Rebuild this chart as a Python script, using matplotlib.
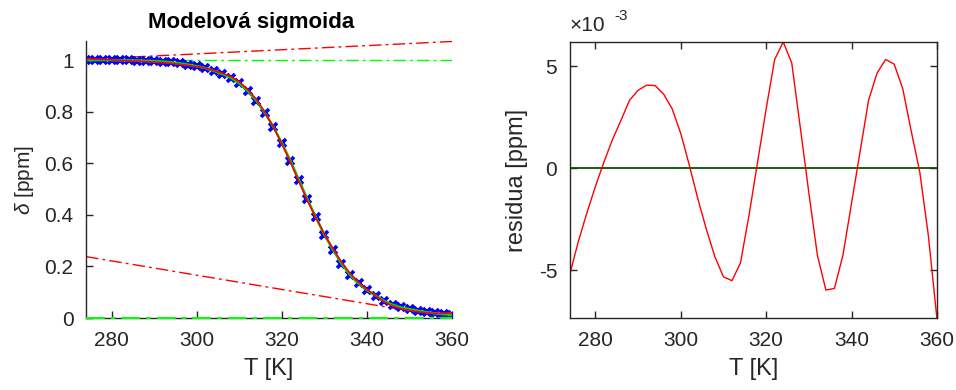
import numpy as np
import matplotlib
matplotlib.use("Agg")
import matplotlib.pyplot as plt
from matplotlib.ticker import FuncFormatter, FixedLocator

plt.rcParams['font.family'] = ['Liberation Sans', 'DejaVu Sans']
plt.rcParams['mathtext.fontset'] = 'custom'
plt.rcParams['mathtext.rm'] = 'Liberation Sans'
plt.rcParams['mathtext.it'] = 'Liberation Sans:italic'

# Temperatures [K]
T = np.arange(274, 361, 2)

# Measured chemical shift [ppm]
delta = [1.000, 1.000, 1.000, 1.000, 0.999, 0.999, 0.998, 0.997, 0.996, 0.994,
         0.991, 0.987, 0.982, 0.976, 0.969, 0.958, 0.946, 0.932, 0.910, 0.880,
         0.843, 0.795, 0.741, 0.678, 0.610, 0.535, 0.460, 0.390, 0.323, 0.264,
         0.211, 0.167, 0.134, 0.108, 0.087, 0.066, 0.051, 0.041, 0.034, 0.028,
         0.022, 0.018, 0.015, 0.013]

# Residuals of the fit [ppm]
resid = [-5.21, -3.60, -2.20, -0.90, 0.30, 1.40, 2.35, 3.33, 3.82, 4.07,
         4.05, 3.63, 2.90, 1.70, 0.15, -1.50, -3.00, -4.35, -5.33, -5.52,
         -4.64, -2.30, 0.30, 2.90, 5.33, 6.19, 5.16, 2.00, -1.20, -4.26,
         -5.98, -5.90, -4.26, -1.73, 0.80, 3.33, 4.67, 5.33, 5.10, 3.90,
         1.80, -0.20, -3.30, -7.35]
resid = np.array(resid) * 1e-3
delta = np.array(delta)
fit = delta - resid

# Baselines: end points over the temperature range
base_T = [274, 360]
upper_fit = [1.003, 1.072]
lower_fit = [0.238, 0.000]
upper_model = [1.0, 1.0]
lower_model = [0.0, 0.0]

axcol = (0.15, 0.15, 0.15)
dd = (9, 3, 2, 3)

fig = plt.figure(figsize=(9.56, 3.9), dpi=100)
ax1 = fig.add_axes([0.090, 0.1846, 0.383, 0.7104])
ax2 = fig.add_axes([0.596, 0.1846, 0.384, 0.7078])

# Left panel: sigmoid
ax1.plot(base_T, upper_model, '-.', color=(0, 1, 0), lw=1.0, dashes=dd)
ax1.plot(base_T, lower_model, '-.', color=(0, 1, 0), lw=1.5, dashes=dd,
         zorder=4, clip_on=False)
ax1.plot(base_T, upper_fit, '-.', color=(1, 0, 0), lw=1.0, dashes=dd)
ax1.plot(base_T, lower_fit, '-.', color=(1, 0, 0), lw=1.0, dashes=dd)
ax1.plot(T, delta, 'x', color=(0, 0, 1), ms=6, mew=2.6)
ax1.plot(T, delta, '-', color=(0, 0.85, 0), lw=1.8)
ax1.plot(T, fit, '-', color=(1, 0, 0), lw=1.2)

ax1.set_xlim(274, 360)
ax1.set_ylim(0, 1.074)
ax1.set_xticks([280, 300, 320, 340, 360])
ax1.set_yticks([0, 0.2, 0.4, 0.6, 0.8, 1.0])
ax1.yaxis.set_major_formatter(FuncFormatter(lambda v, p: f"{v:g}"))
ax1.spines['top'].set_visible(False)
ax1.spines['right'].set_visible(False)
for s in ('left', 'bottom'):
    ax1.spines[s].set_color(axcol)
    ax1.spines[s].set_linewidth(1.0)
ax1.tick_params(direction='in', length=5, width=1.0, colors=axcol,
                labelsize=15, pad=9)
ax1.set_xlabel('T [K]', fontsize=17, color=axcol, labelpad=6)
ax1.set_ylabel(r'$\delta$ [ppm]', fontsize=15, color=axcol, labelpad=6)
ax1.set_title('Modelová sigmoida', fontsize=16, fontweight='bold', pad=9,
              x=0.45)

# Right panel: residuals
ax2.axhline(0, color=(0, 0.33, 0), lw=1.3)
ax2.plot(T, resid, '-', color=(1, 0, 0), lw=1.0)
ax2.set_xlim(274, 360)
ax2.set_ylim(resid.min(), resid.max())
ax2.set_xticks([280, 300, 320, 340, 360])
ax2.yaxis.set_major_locator(FixedLocator([-5e-3, 0, 5e-3]))
ax2.yaxis.set_major_formatter(FuncFormatter(lambda v, p: f"{v*1e3:g}"))
for s in ax2.spines.values():
    s.set_color(axcol)
    s.set_linewidth(1.0)
ax2.tick_params(direction='in', length=5, width=1.0, colors=axcol,
                labelsize=15, pad=9, top=True, right=True)
ax2.set_xlabel('T [K]', fontsize=17, color=axcol, labelpad=6)
ax2.set_ylabel('residua [ppm]', fontsize=17, color=axcol, labelpad=8)
ax2.text(0.0, 1.025, '×10', transform=ax2.transAxes, fontsize=15,
         color=axcol, ha='left', va='bottom')
ax2.text(0.122, 1.07, '-3', transform=ax2.transAxes, fontsize=11,
         color=axcol, ha='left', va='bottom')

fig.savefig('out.png', dpi=100)
